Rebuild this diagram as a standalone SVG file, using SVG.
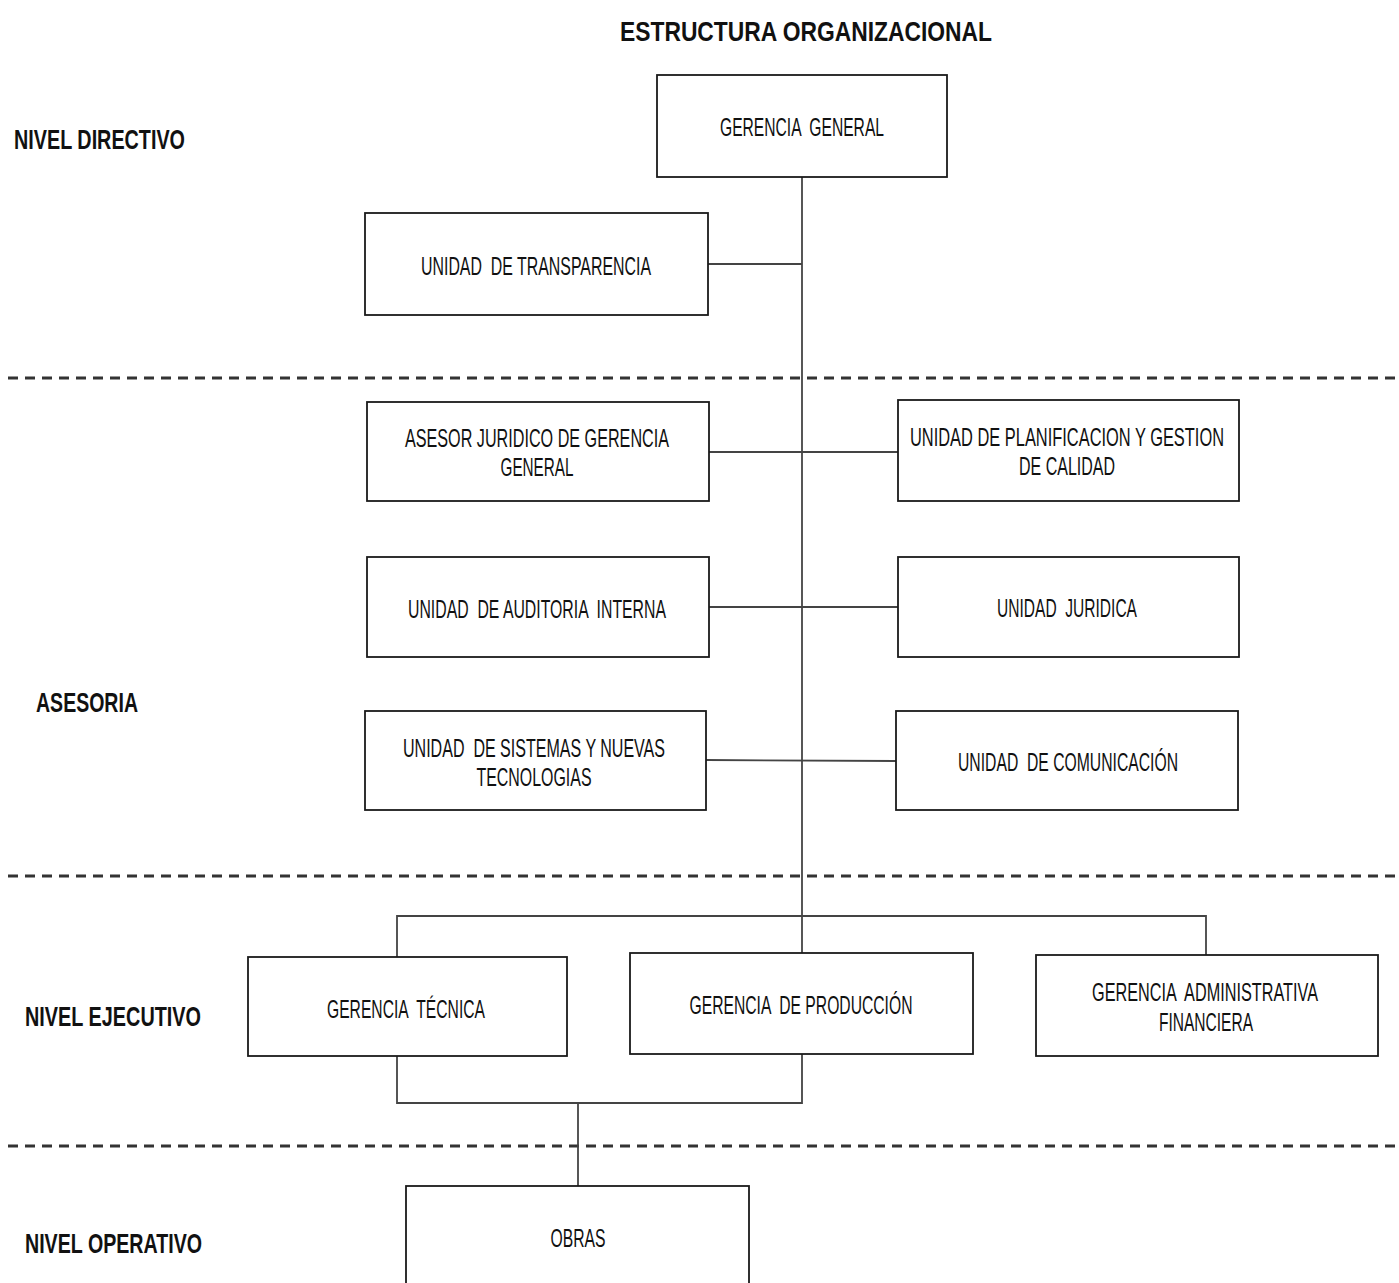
<svg xmlns="http://www.w3.org/2000/svg" width="1399" height="1283" viewBox="0 0 1399 1283">
<style>
.box{fill:#fff;stroke:#1a1a1a;stroke-width:1.8}
.t{font-family:"Liberation Sans",Arial,sans-serif;font-size:25px;fill:#111;text-anchor:middle;white-space:pre}
.lab{font-family:"Liberation Sans",Arial,sans-serif;font-size:28px;font-weight:bold;fill:#111}
.con{fill:none;stroke:#444;stroke-width:1.8}
.dash{fill:none;stroke:#333;stroke-width:3;stroke-dasharray:10 7}
</style>
<rect width="1399" height="1283" fill="#fff"/>
<text class="lab" x="806" y="41" text-anchor="middle" textLength="372" lengthAdjust="spacingAndGlyphs">ESTRUCTURA ORGANIZACIONAL</text>
<g id="levels">
<text class="lab" x="14" y="149" textLength="171" lengthAdjust="spacingAndGlyphs">NIVEL DIRECTIVO</text>
<text class="lab" x="36" y="712" textLength="102" lengthAdjust="spacingAndGlyphs">ASESORIA</text>
<text class="lab" x="25" y="1026" textLength="176" lengthAdjust="spacingAndGlyphs">NIVEL EJECUTIVO</text>
<text class="lab" x="25" y="1253" textLength="177" lengthAdjust="spacingAndGlyphs">NIVEL OPERATIVO</text>
</g>
<g id="separators">
<line class="dash" x1="8" y1="378" x2="1399" y2="378"/>
<line class="dash" x1="8" y1="876" x2="1399" y2="876"/>
<line class="dash" x1="8" y1="1146" x2="1399" y2="1146"/>
</g>
<g id="connectors">
<line class="con" x1="802" y1="177" x2="802" y2="953"/>
<line class="con" x1="708" y1="264" x2="802" y2="264"/>
<line class="con" x1="709" y1="452" x2="898" y2="452"/>
<line class="con" x1="709" y1="607" x2="898" y2="607"/>
<line class="con" x1="706" y1="760" x2="896" y2="761"/>
<polyline class="con" points="397,957 397,916 1206,916 1206,955"/>
<polyline class="con" points="397,1056 397,1103 802,1103 802,1054"/>
<line class="con" x1="578" y1="1103" x2="578" y2="1186"/>
</g>
<g id="gerencia-general">
<rect class="box" x="657" y="75" width="290" height="102"/>
<text class="t" x="802" y="136" textLength="164" lengthAdjust="spacingAndGlyphs">GERENCIA  GENERAL</text>
</g>
<g id="unidad-transparencia">
<rect class="box" x="365" y="213" width="343" height="102"/>
<text class="t" x="536" y="275" textLength="230" lengthAdjust="spacingAndGlyphs">UNIDAD  DE TRANSPARENCIA</text>
</g>
<g id="asesor-juridico">
<rect class="box" x="367" y="402" width="342" height="99"/>
<text class="t" x="537" y="447" textLength="264" lengthAdjust="spacingAndGlyphs">ASESOR JURIDICO DE GERENCIA</text>
<text class="t" x="537" y="476" textLength="73" lengthAdjust="spacingAndGlyphs">GENERAL</text>
</g>
<g id="unidad-planificacion">
<rect class="box" x="898" y="400" width="341" height="101"/>
<text class="t" x="1067" y="446" textLength="314" lengthAdjust="spacingAndGlyphs">UNIDAD DE PLANIFICACION Y GESTION</text>
<text class="t" x="1067" y="475" textLength="96" lengthAdjust="spacingAndGlyphs">DE CALIDAD</text>
</g>
<g id="unidad-auditoria">
<rect class="box" x="367" y="557" width="342" height="100"/>
<text class="t" x="537" y="618" textLength="258" lengthAdjust="spacingAndGlyphs">UNIDAD  DE AUDITORIA  INTERNA</text>
</g>
<g id="unidad-juridica">
<rect class="box" x="898" y="557" width="341" height="100"/>
<text class="t" x="1067" y="617" textLength="140" lengthAdjust="spacingAndGlyphs">UNIDAD  JURIDICA</text>
</g>
<g id="unidad-sistemas">
<rect class="box" x="365" y="711" width="341" height="99"/>
<text class="t" x="534" y="757" textLength="262" lengthAdjust="spacingAndGlyphs">UNIDAD  DE SISTEMAS Y NUEVAS</text>
<text class="t" x="534" y="786" textLength="115" lengthAdjust="spacingAndGlyphs">TECNOLOGIAS</text>
</g>
<g id="unidad-comunicacion">
<rect class="box" x="896" y="711" width="342" height="99"/>
<text class="t" x="1068" y="771" textLength="220" lengthAdjust="spacingAndGlyphs">UNIDAD  DE COMUNICACIÓN</text>
</g>
<g id="gerencia-tecnica">
<rect class="box" x="248" y="957" width="319" height="99"/>
<text class="t" x="406" y="1018" textLength="158" lengthAdjust="spacingAndGlyphs">GERENCIA  TÉCNICA</text>
</g>
<g id="gerencia-produccion">
<rect class="box" x="630" y="953" width="343" height="101"/>
<text class="t" x="801" y="1014" textLength="223" lengthAdjust="spacingAndGlyphs">GERENCIA  DE PRODUCCIÓN</text>
</g>
<g id="gerencia-administrativa">
<rect class="box" x="1036" y="955" width="342" height="101"/>
<text class="t" x="1205" y="1001" textLength="226" lengthAdjust="spacingAndGlyphs">GERENCIA  ADMINISTRATIVA</text>
<text class="t" x="1206" y="1031" textLength="94" lengthAdjust="spacingAndGlyphs">FINANCIERA</text>
</g>
<g id="obras">
<rect class="box" x="406" y="1186" width="343" height="110"/>
<text class="t" x="578" y="1247" textLength="55" lengthAdjust="spacingAndGlyphs">OBRAS</text>
</g>
</svg>
